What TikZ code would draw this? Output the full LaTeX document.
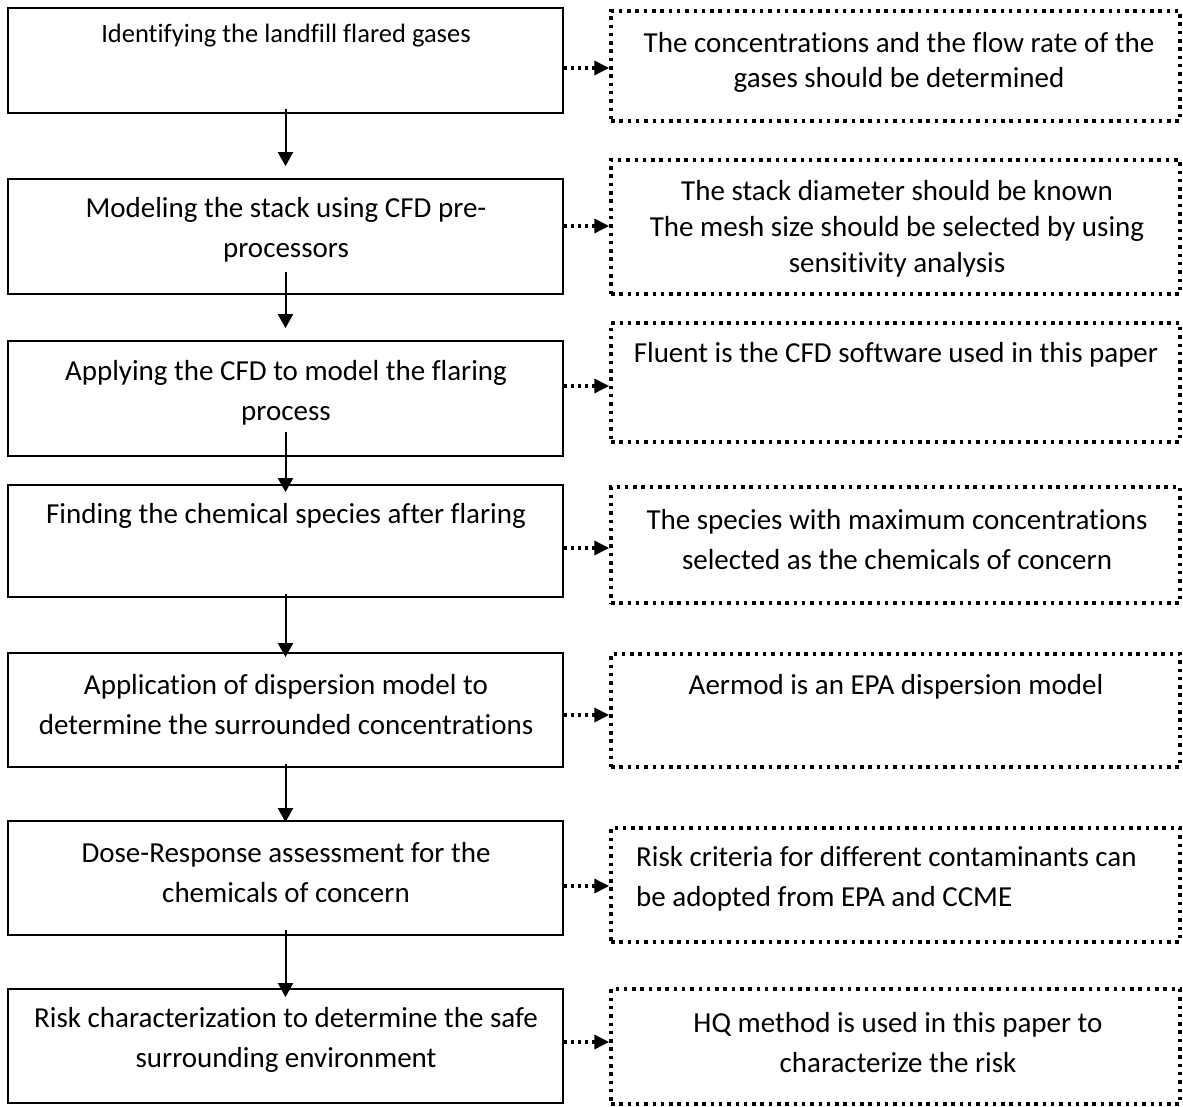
\documentclass[tikz,border=0pt]{standalone}
\usepackage{fontspec}
\setmainfont{Carlito}[RawFeature={-liga,-clig,-calt,-dlig}]
\usetikzlibrary{arrows.meta}

\tikzset{
  stepbox/.style={draw, line width=1.8pt, minimum width=555pt},
  notebox/.style={draw, line width=3.5pt, dash pattern=on 3.5pt off 4.8pt, minimum width=569pt},
  flow/.style={line width=2pt, -{Triangle[width=15pt,length=14pt]}},
  noteflow/.style={line width=3.5pt, dash pattern=on 3.5pt off 3.5pt, -{Triangle[width=14pt,length=15pt]}},
  txt/.style={align=center, inner sep=0pt, font=\fontsize{29}{40}\selectfont},
}

\begin{document}
\begin{tikzpicture}[x=1pt,y=-1pt]
\useasboundingbox (0,0) rectangle (1183,1107);
% process steps
\node[stepbox, minimum height=105pt] (l1) at (285.5,60.5) {};
\node[stepbox, minimum height=115pt] (l2) at (285.5,236.5) {};
\node[stepbox, minimum height=115pt] (l3) at (285.5,398.5) {};
\node[stepbox, minimum height=112pt] (l4) at (285.5,541) {};
\node[stepbox, minimum height=114pt] (l5) at (285.5,710) {};
\node[stepbox, minimum height=114pt] (l6) at (285.5,878) {};
\node[stepbox, minimum height=114pt] (l7) at (285.5,1046) {};
\node[txt, font=\fontsize{26.5}{32}\selectfont] (t1) at (286,36) {Identifying the landfill flared gases};
\node[txt] (t2) at (286,230) {Modeling the stack using CFD pre-\\processors};
\node[txt] (t3) at (286,392.5) {Applying the CFD to model the flaring\\process};
\node[txt] (t4) at (286,516) {Finding the chemical species after flaring};
\node[txt] (t5) at (286,704.5) {Application of dispersion model to\\determine the surrounded concentrations};
\node[txt] (t6) at (286,872.5) {Dose-Response assessment for the\\chemicals of concern};
\node[txt] (t7) at (286,1040) {Risk characterization to determine the safe\\surrounding environment};
% notes
\node[notebox, minimum height=110pt] (r1) at (895.5,66) {};
\node[notebox, minimum height=134pt] (r2) at (895.5,227) {};
\node[notebox, minimum height=119pt] (r3) at (895.5,382.5) {};
\node[notebox, minimum height=116pt] (r4) at (895.5,545) {};
\node[notebox, minimum height=113pt] (r5) at (895.5,710.5) {};
\node[notebox, minimum height=114pt] (r6) at (895.5,885) {};
\node[notebox, minimum height=115pt] (r7) at (895.5,1046.5) {};
\node[txt, font=\fontsize{29}{35}\selectfont] (u1) at (899,62.5) {The concentrations and the flow rate of the\\gases should be determined};
\node[txt, font=\fontsize{29}{36}\selectfont] (u2) at (897,229) {The stack diameter should be known\\The mesh size should be selected by using\\sensitivity analysis};
\node[txt] (u3) at (896,355) {Fluent is the CFD software used in this paper};
\node[txt] (u4) at (897,540) {The species with maximum concentrations\\selected as the chemicals of concern};
\node[txt] (u5) at (896,687) {Aermod is an EPA dispersion model};
\node[txt, align=left, anchor=west] (u6) at (636,879) {Risk criteria for different contaminants can\\be adopted from EPA and CCME};
\node[txt] (u7) at (898,1043) {HQ method is used in this paper to\\characterize the risk};
% arrows
\foreach \a/\b/\s/\e in {1/2/-5pt/12pt, 2/3/-23pt/12pt, 3/4/-25pt/-8pt, 4/5/-4pt/-5pt, 5/6/-4pt/-2pt, 6/7/-6pt/-9pt}
  \draw[flow, shorten <=\s, shorten >=\e] (l\a) -- (l\b);
\foreach \i/\d in {1/-7.5pt, 2/10.5pt, 3/12.5pt, 4/-7pt, 5/-5pt, 6/-8pt, 7/4pt}
  \draw[noteflow] ([yshift=\d]l\i.east) coordinate (p\i) -- (p\i -| r\i.west);
\end{tikzpicture}
\end{document}
